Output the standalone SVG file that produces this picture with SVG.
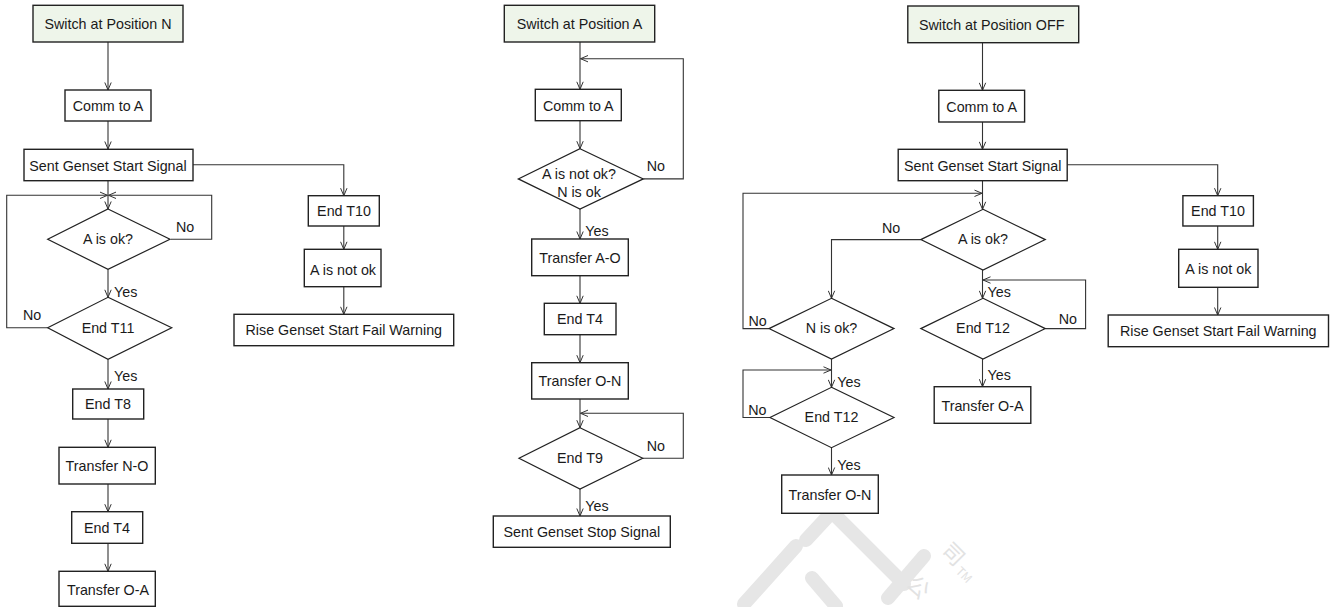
<svg xmlns="http://www.w3.org/2000/svg" width="1330" height="607" viewBox="0 0 1330 607">
<defs>
<marker id="arr" markerUnits="userSpaceOnUse" markerWidth="10" markerHeight="8" refX="8" refY="4" orient="auto">
<path d="M0.5,0.8 L8,4 L0.5,7.2" fill="none" stroke="#333" stroke-width="1"/>
</marker>
</defs>
<style>
text{font-family:"Liberation Sans",Arial,sans-serif;font-size:14.3px;fill:#1a1a1a}
.c{text-anchor:middle}
.box{fill:#fff;stroke:#222;stroke-width:1.4}
.start{fill:#eef5ea;stroke:#222;stroke-width:1.4}
.dia{fill:#fff;stroke:#222;stroke-width:1.2}
.ln{fill:none;stroke:#333;stroke-width:1.1}
.ar{marker-end:url(#arr)}
.wm{fill:none;stroke:#e6e6e6;stroke-width:14;stroke-linecap:round;stroke-linejoin:round}
.wt{fill:#e2e2e2;font-family:"Noto Sans CJK SC",sans-serif;font-size:22px}
</style>
<rect width="1330" height="607" fill="#fff"/>

<g id="watermark">
<path class="wm" d="M744,604 L796,546"/>
<path class="wm" d="M812,578 L836,606"/>
<path class="wm" d="M806,540 L832,512 L904,584"/>
<path class="wm" d="M888,598 L924,556"/>
<text class="wt" transform="translate(940,552) rotate(45)">司</text>
<text class="wt" transform="translate(905,585) rotate(45)">公</text>
<text class="wt" style="font-size:12px" transform="translate(955,572) rotate(45)">TM</text>
</g>

<g id="connectors">
<path class="ln ar" d="M108,42 V90"/>
<path class="ln ar" d="M108,121 V149"/>
<path class="ln ar" d="M193,164.7 H343.8 V195.7"/>
<path class="ln ar" d="M108,181 V209"/>
<path class="ln ar" d="M171,239.3 H211.7 V195.3 H108.5"/>
<path class="ln ar" d="M47.7,327.7 H6.7 V195.3 H107.5"/>
<path class="ln ar" d="M108,269.3 V297.3"/>
<path class="ln ar" d="M108,359.3 V389"/>
<path class="ln ar" d="M108,419 V447.3"/>
<path class="ln ar" d="M108,484 V511.7"/>
<path class="ln ar" d="M108,543.3 V571.3"/>
<path class="ln ar" d="M343.8,226 V249.3"/>
<path class="ln ar" d="M343.8,286.7 V314.3"/>
<path class="ln ar" d="M580,42 V89.3"/>
<path class="ln ar" d="M643.3,178.9 H683.3 V58.7 H580.5"/>
<path class="ln ar" d="M580,120.7 V148.7"/>
<path class="ln ar" d="M580,209 V239"/>
<path class="ln ar" d="M580,275.7 V303.3"/>
<path class="ln ar" d="M580,334.7 V362.7"/>
<path class="ln ar" d="M580,399 V427.7"/>
<path class="ln ar" d="M642.7,458.3 H683.3 V413.3 H580.5"/>
<path class="ln ar" d="M580,489 V516"/>
<path class="ln ar" d="M982.5,42.7 V90.3"/>
<path class="ln ar" d="M982.5,122 V149.3"/>
<path class="ln ar" d="M1067.2,164.7 H1217.7 V195.7"/>
<path class="ln ar" d="M982.5,180.7 V209.3"/>
<path class="ln ar" d="M769,328.6 H743 V193.3 H982"/>
<path class="ln ar" d="M920.8,239.6 H831.5 V298.3"/>
<path class="ln ar" d="M982.5,270 V298.3"/>
<path class="ln ar" d="M1045.3,328.6 H1085.6 V280 H983"/>
<path class="ln ar" d="M982.5,359 V386.7"/>
<path class="ln ar" d="M831.5,359 V387.3"/>
<path class="ln ar" d="M770,417.5 H743 V370 H831"/>
<path class="ln ar" d="M831.5,447.7 V475"/>
<path class="ln ar" d="M1217.7,226 V249.3"/>
<path class="ln ar" d="M1217.7,287.3 V315"/>
<text x="176" y="232">No</text>
<text x="114" y="297">Yes</text>
<text x="23" y="320">No</text>
<text x="114" y="381">Yes</text>
<text x="646.7" y="171">No</text>
<text x="585.3" y="236">Yes</text>
<text x="646.7" y="451">No</text>
<text x="585.3" y="511">Yes</text>
<text x="882" y="233">No</text>
<text x="748.4" y="326">No</text>
<text x="987.5" y="297">Yes</text>
<text x="1058.7" y="324">No</text>
<text x="987.5" y="380">Yes</text>
<text x="837.3" y="387">Yes</text>
<text x="748.3" y="415">No</text>
<text x="837.3" y="470">Yes</text>
</g>

<g id="n-switch-n"><rect class="start" x="33" y="5.3" width="150" height="36.7"/><text class="c" x="108" y="29">Switch at Position N</text></g>
<g id="n1-comm"><rect class="box" x="65" y="90" width="86" height="31"/><text class="c" x="108" y="111">Comm to A</text></g>
<g id="n1-sent"><rect class="box" x="24" y="149.3" width="169" height="31.4"/><text class="c" x="108" y="170.5">Sent Genset Start Signal</text></g>
<g id="n1-aok"><polygon class="dia" points="108,209 170,239.3 108,269.3 47.7,239.3"/><text class="c" x="108" y="244.3">A is ok?</text></g>
<g id="n1-t11"><polygon class="dia" points="108,297.3 171.7,327.7 108,359.3 47.7,327.7"/><text class="c" x="108" y="333.3">End T11</text></g>
<g id="n1-t8"><rect class="box" x="72.7" y="389" width="71" height="30"/><text class="c" x="108" y="409">End T8</text></g>
<g id="n1-tno"><rect class="box" x="59" y="447.3" width="96.3" height="36.7"/><text class="c" x="107" y="471">Transfer N-O</text></g>
<g id="n1-t4"><rect class="box" x="71.7" y="511.7" width="71" height="31.6"/><text class="c" x="107" y="532.5">End T4</text></g>
<g id="n1-toa"><rect class="box" x="59" y="571.3" width="96.3" height="35"/><text class="c" x="108" y="595">Transfer O-A</text></g>
<g id="n1-t10"><rect class="box" x="308.3" y="195.7" width="71" height="30.3"/><text class="c" x="344" y="216.3">End T10</text></g>
<g id="n1-anok"><rect class="box" x="304.3" y="249.3" width="76.7" height="37.4"/><text class="c" x="343" y="275">A is not ok</text></g>
<g id="n1-rise"><rect class="box" x="234" y="314.3" width="219.7" height="31.4"/><text class="c" x="343.8" y="335">Rise Genset Start Fail Warning</text></g>

<g id="n-switch-a"><rect class="start" x="504.3" y="5.3" width="150.4" height="36.7"/><text class="c" x="579.5" y="29">Switch at Position A</text></g>
<g id="n2-comm"><rect class="box" x="535.3" y="89.3" width="86" height="31.4"/><text class="c" x="578.3" y="110.5">Comm to A</text></g>
<g id="n2-anok"><polygon class="dia" points="580,148.7 643.3,178.9 580,209 518.3,178.9"/><text class="c" x="579" y="178.5">A is not ok?</text><text class="c" x="579" y="196.5">N is ok</text></g>
<g id="n2-tao"><rect class="box" x="531.7" y="239" width="96.6" height="36.7"/><text class="c" x="580" y="262.5">Transfer A-O</text></g>
<g id="n2-t4"><rect class="box" x="544.3" y="303.3" width="71.7" height="31.4"/><text class="c" x="580" y="324">End T4</text></g>
<g id="n2-ton"><rect class="box" x="531.7" y="362.7" width="96.6" height="36.3"/><text class="c" x="580" y="386">Transfer O-N</text></g>
<g id="n2-t9"><polygon class="dia" points="580,427.7 642.7,458.3 580,489 519,458.3"/><text class="c" x="580" y="462.5">End T9</text></g>
<g id="n2-stop"><rect class="box" x="493.3" y="516" width="177" height="31.3"/><text class="c" x="581.8" y="537">Sent Genset Stop Signal</text></g>

<g id="n-switch-off"><rect class="start" x="907.8" y="6" width="170.9" height="36.7"/><text class="c" x="991.7" y="29.8">Switch at Position OFF</text></g>
<g id="n3-comm"><rect class="box" x="938.8" y="90.3" width="85.8" height="31.7"/><text class="c" x="981.7" y="111.5">Comm to A</text></g>
<g id="n3-sent"><rect class="box" x="898.2" y="149.3" width="169" height="31.4"/><text class="c" x="982.7" y="170.5">Sent Genset Start Signal</text></g>
<g id="n3-aok"><polygon class="dia" points="983,209.3 1045.3,239.6 983,270 920.8,239.6"/><text class="c" x="983" y="243.5">A is ok?</text></g>
<g id="n3-nok"><polygon class="dia" points="831.5,298.3 894,328.6 831.5,359 769,328.6"/><text class="c" x="831.5" y="332.5">N is ok?</text></g>
<g id="n3-t12a"><polygon class="dia" points="983,298.3 1045.3,328.6 983,359 920.8,328.6"/><text class="c" x="983" y="333">End T12</text></g>
<g id="n3-toa"><rect class="box" x="934.2" y="386.7" width="96.6" height="36.6"/><text class="c" x="982.5" y="410.5">Transfer O-A</text></g>
<g id="n3-t12b"><polygon class="dia" points="831.5,387.3 894,417.5 831.5,447.7 770,417.5"/><text class="c" x="831.5" y="422">End T12</text></g>
<g id="n3-ton"><rect class="box" x="781.7" y="475" width="96.6" height="38.3"/><text class="c" x="830" y="499.5">Transfer O-N</text></g>
<g id="n3-t10"><rect class="box" x="1182.9" y="195.7" width="70.5" height="30.3"/><text class="c" x="1218" y="216.3">End T10</text></g>
<g id="n3-anok"><rect class="box" x="1178.7" y="249.3" width="79.3" height="38"/><text class="c" x="1218.3" y="274">A is not ok</text></g>
<g id="n3-rise"><rect class="box" x="1108.2" y="315" width="220.3" height="31.7"/><text class="c" x="1218.3" y="336">Rise Genset Start Fail Warning</text></g>
</svg>
